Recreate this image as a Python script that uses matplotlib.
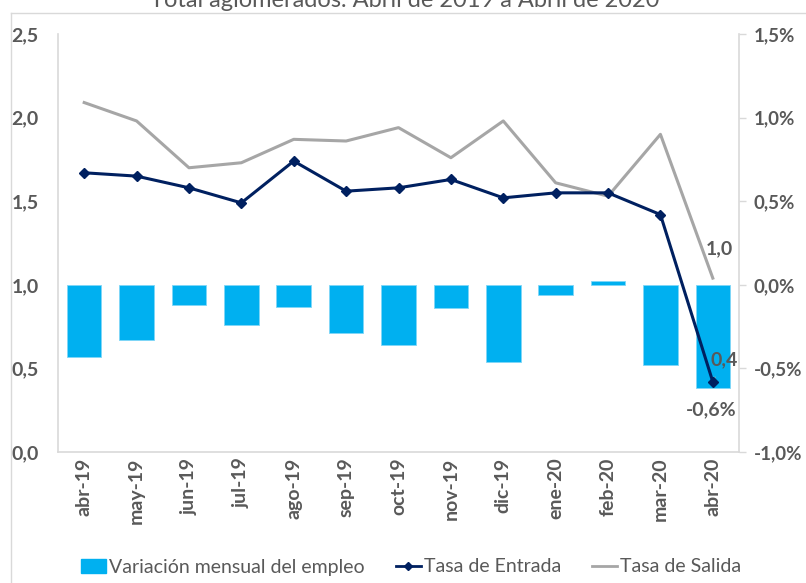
import matplotlib
matplotlib.use("Agg")
import matplotlib.pyplot as plt
from matplotlib.ticker import FuncFormatter
from matplotlib.patches import Patch
from matplotlib.lines import Line2D
import numpy as np

categories = ["abr-19", "may-19", "jun-19", "jul-19", "ago-19", "sep-19", "oct-19",
              "nov-19", "dic-19", "ene-20", "feb-20", "mar-20", "abr-20"]
variacion = [-0.43, -0.33, -0.12, -0.24, -0.13, -0.29, -0.36,
             -0.14, -0.46, -0.06, 0.02, -0.48, -0.62]
entrada = [1.67, 1.65, 1.58, 1.49, 1.74, 1.56, 1.58,
           1.63, 1.52, 1.55, 1.55, 1.42, 0.42]
salida = [2.09, 1.98, 1.70, 1.73, 1.87, 1.86, 1.94,
          1.76, 1.98, 1.61, 1.53, 1.90, 1.04]
title = "Total aglomerados. Abril de 2019 a Abril de 2020"

TXT = "#595959"
GRID = "#D9D9D9"
BAR = "#00B0F0"
NAVY = "#002060"
GRAY = "#A6A6A6"
FONT = ["Lato", "DejaVu Sans"]
plt.rcParams["font.family"] = FONT
plt.rcParams["font.weight"] = "bold"

W, H = 806, 583
fig = plt.figure(figsize=(W / 100, H / 100), dpi=100)
L, R, T, B = 58, 739, 34, 452
ax = fig.add_axes([L / W, 1 - B / H, (R - L) / W, (B - T) / H])
ax2 = ax.twinx()

x = np.arange(len(categories))

# bars on right axis (behind)
ax2.bar(x, variacion, width=0.66, color=BAR, edgecolor="#7FD6F7", linewidth=0.6, zorder=1)
ax2.set_ylim(-1.0, 1.5)
ax2.set_yticks(np.arange(-1.0, 1.51, 0.5))
ax2.yaxis.set_major_formatter(FuncFormatter(lambda v, p: (f"{v:.1f}%").replace(".", ",")))

# lines on left axis (front)
ax.set_zorder(ax2.get_zorder() + 1)
ax.patch.set_visible(False)
ax.plot(x, salida, color=GRAY, lw=2.2, zorder=3)
ax.plot(x, entrada, color=NAVY, lw=2.2, marker="D", markersize=5, zorder=4)
ax.set_ylim(0, 2.5)
ax.set_xlim(-0.5, len(categories) - 0.5)
ax.set_yticks(np.arange(0, 2.51, 0.5))
ax.yaxis.set_major_formatter(FuncFormatter(lambda v, p: (f"{v:.1f}").replace(".", ",")))
ax.set_xticks(x)
ax.set_xticklabels(categories, rotation=90, fontweight="bold")

for a in (ax, ax2):
    for s in a.spines.values():
        s.set_color(GRID)
        s.set_linewidth(1.2)
    a.spines["top"].set_visible(False)
ax.spines["right"].set_visible(False)
ax2.spines["left"].set_visible(False)
ax2.spines["bottom"].set_visible(False)

ax.tick_params(axis="y", length=0, pad=14, labelsize=14, labelcolor=TXT)
ax.tick_params(axis="x", length=0, pad=4, labelsize=14, labelcolor=TXT)
ax2.tick_params(axis="y", length=5, width=1, color=GRID, pad=5.5, labelsize=13.5, labelcolor=TXT)

# data labels for last point
n = len(categories) - 1
ax.annotate((f"{salida[n]:.1f}").replace(".", ","), (x[n], salida[n]),
            xytext=(5, 21), textcoords="offset points", ha="center", va="center",
            fontsize=14, fontweight="bold", color=TXT)
ax.annotate((f"{entrada[n]:.1f}").replace(".", ","), (x[n], entrada[n]),
            xytext=(8, 16), textcoords="offset points", ha="center", va="center",
            fontsize=14, fontweight="bold", color=TXT,
            arrowprops=dict(arrowstyle="-", color=GRAY, lw=0.8, shrinkA=5, shrinkB=2))
ax2.annotate((f"{variacion[n]:.1f}%").replace(".", ","), (x[n], variacion[n]),
             xytext=(-1, -15), textcoords="offset points", ha="center", va="center",
             fontsize=14, fontweight="bold", color=TXT)

# legend
handles = [Patch(facecolor=BAR, edgecolor=BAR),
           Line2D([], [], color=NAVY, lw=2, marker="D", markersize=4),
           Line2D([], [], color=GRAY, lw=2)]
labels = ["Variación mensual del empleo", "Tasa de Entrada", "Tasa de Salida"]
fig.legend(handles, labels, loc="center", bbox_to_anchor=(411 / W, 1 - 567 / H),
           ncol=3, frameon=False, prop={"size": 14, "weight": "normal"},
           labelcolor=TXT, handlelength=1.3, handletextpad=0.15, columnspacing=1.6)

# title (cut at top) and chart-area border
fig.text(405 / W, 1 - 7 / H, title, ha="center", va="baseline", fontsize=17,
         fontweight="normal", color=TXT)
fig.add_artist(Line2D([11 / W, 11 / W], [0, 1 - 13 / H], transform=fig.transFigure, color=GRID, lw=1))
fig.add_artist(Line2D([11 / W, 1], [1 - 13 / H, 1 - 13 / H], transform=fig.transFigure, color=GRID, lw=1))

fig.savefig("out.png", dpi=100)
